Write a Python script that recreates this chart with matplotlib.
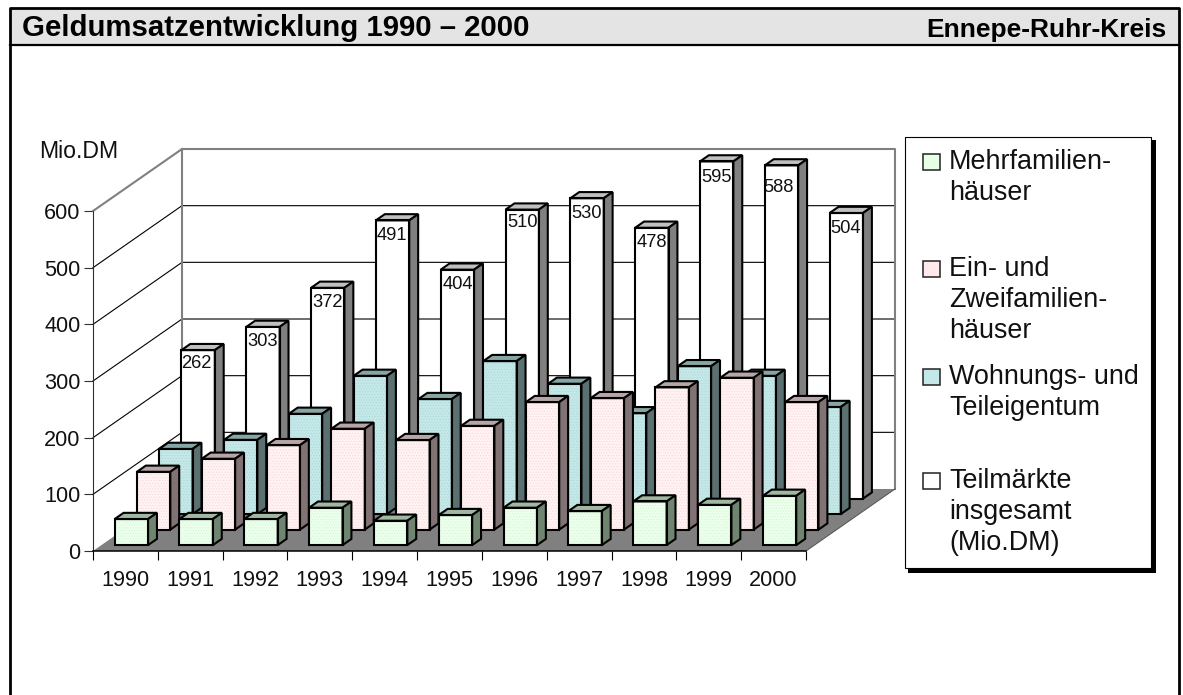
#!/usr/bin/env python
"""Geldumsatzentwicklung 1990-2000 as an oblique 3D column chart (Ennepe-Ruhr-Kreis)."""

import matplotlib

matplotlib.use("Agg")
import matplotlib.pyplot as plt  # noqa: E402
from matplotlib.patches import Polygon, Rectangle  # noqa: E402

plt.rcParams["font.family"] = ["Liberation Sans", "DejaVu Sans"]
plt.rcParams["hatch.linewidth"] = 0.35

YEARS = ["1990", "1991", "1992", "1993", "1994", "1995", "1996", "1997", "1998", "1999", "2000"]
MEHRFAMILIEN = [46, 46, 46, 66, 43, 53, 66, 60, 77, 71, 87]
EIN_ZWEI = [102, 125, 149, 178, 158, 183, 225, 232, 251, 268, 225]
EIGENTUM = [115, 131, 177, 244, 203, 270, 230, 178, 261, 244, 189]
INSGESAMT = [262, 303, 372, 491, 404, 510, 530, 478, 595, 588, 504]
Y_TICKS = [0, 100, 200, 300, 400, 500, 600]

# front, top, side, hatch colour per series, back row first
ROWS = [
    (INSGESAMT, "#ffffff", "#c0c0c0", "#808080", None),
    (EIGENTUM, "#c4e8e8", "#86a6a6", "#5b7070", "#a8d4d6"),
    (EIN_ZWEI, "#fff2f2", "#b8a5a7", "#817274", "#fbd2d8"),
    (MEHRFAMILIEN, "#ecffec", "#a0b8a0", "#6f8570", "#cdf5cd"),
]
LEGEND = [
    ("#e6ffe6", ["Mehrfamilien-", "häuser"], 169),
    ("#ffe9ea", ["Ein- und", "Zweifamilien-", "häuser"], 276),
    ("#c4e8e8", ["Wohnungs- und", "Teileigentum"], 384),
    ("#ffffff", ["Teilmärkte", "insgesamt", "(Mio.DM)"], 488),
]

# value labels sit a little differently from bar to bar: (dx in categories, dy in Mio.DM)
LABEL_NUDGE = {0: (-0.03, 3), 3: (-0.01, 0), 5: (0, 3), 8: (0, -2), 9: (-0.045, -13), 10: (-0.015, -1)}

DEPTH_X = 1.373  # how far the back wall is shifted, in categories
DEPTH_V = 109.4  # and in Mio.DM
BAR_W = 0.515
BAR_GAP = 0.204
BAR_DEPTH = 0.1
ROW_DEPTHS = [0.845, 0.595, 0.345, 0.095]

GRID_GREY = "#808080"
EDGE_LW = 1.5


def project(x, value, depth):
    """Oblique projection of (category, value, depth 0..1) onto the axes."""
    return x + depth * DEPTH_X, value + depth * DEPTH_V


def draw_bar(ax, x, value, depth, front, top, side, hatch_col, z):
    """One column: front, top and side faces with a black outline."""
    d2 = depth + BAR_DEPTH
    x2 = x + BAR_W
    front_pts = [project(x, 0, depth), project(x2, 0, depth), project(x2, value, depth), project(x, value, depth)]
    top_pts = [project(x, value, depth), project(x2, value, depth), project(x2, value, d2), project(x, value, d2)]
    side_pts = [project(x2, 0, depth), project(x2, 0, d2), project(x2, value, d2), project(x2, value, depth)]
    ax.add_patch(Polygon(front_pts, fc=front, ec="none", zorder=z, clip_on=False))
    if hatch_col:
        ax.add_patch(Polygon(front_pts, fc="none", ec=hatch_col, lw=0, hatch="......", zorder=z, clip_on=False))
    ax.add_patch(Polygon(top_pts, fc=top, ec="black", lw=EDGE_LW, zorder=z, clip_on=False))
    ax.add_patch(Polygon(side_pts, fc=side, ec="black", lw=EDGE_LW, zorder=z, clip_on=False))
    ax.add_patch(Polygon(front_pts, fc="none", ec="black", lw=EDGE_LW, zorder=z, clip_on=False))


def draw_walls(ax):
    """Floor, back wall and the gridlines running over both walls."""
    n = len(YEARS)
    top = Y_TICKS[-1]
    floor = [project(0, 0, 0), project(n, 0, 0), project(n, 0, 1), project(0, 0, 1)]
    ax.add_patch(Polygon(floor, fc=GRID_GREY, ec="none", zorder=1, clip_on=False))
    for v in Y_TICKS[1:-1]:
        xs, ys = zip(project(0, v, 0), project(0, v, 1), project(n, v, 1))
        ax.plot(xs, ys, color="black", lw=0.8, zorder=2, clip_on=False)
    xs, ys = zip(project(0, top, 0), project(0, top, 1), project(n, top, 1), project(n, 0, 1))
    ax.plot(xs, ys, color=GRID_GREY, lw=1.5, zorder=2, clip_on=False)
    xs, ys = zip(project(0, 0, 1), project(0, top, 1))
    ax.plot(xs, ys, color=GRID_GREY, lw=1.5, zorder=2, clip_on=False)
    xs, ys = zip(project(n, 0, 0), project(n, 0, 1))
    ax.plot(xs, ys, color="#505050", lw=0.7, zorder=2, clip_on=False)


def draw_page(bg):
    """Page frame, header band and the legend box, all in pixel coordinates."""
    bg.set_xlim(0, 1183)
    bg.set_ylim(695, 0)
    bg.axis("off")
    bg.add_patch(Rectangle((10, 8), 1169, 36.5, fc="#e4e4e4", ec="none"))
    bg.plot([10, 10, 1179, 1179], [700, 8, 8, 700], color="black", lw=2.0, clip_on=True)
    bg.plot([10, 1179], [44.5, 44.5], color="black", lw=1.6)
    bg.text(22, 36.5, "Geldumsatzentwicklung 1990 – 2000", fontsize=21.2, fontweight="bold", va="baseline")
    bg.text(1167, 36.5, "Ennepe-Ruhr-Kreis", fontsize=19, fontweight="bold", ha="right", va="baseline")
    bg.text(39, 157.7, "Mio.DM", fontsize=16.6, va="baseline", color="#111111")

    bg.add_patch(Rectangle((908, 140), 248, 433, fc="black", ec="none"))
    bg.add_patch(Rectangle((905, 137), 246, 431, fc="white", ec="black", lw=0.8))
    for color, lines, baseline in LEGEND:
        bg.add_patch(Rectangle((923.5, baseline - 15), 17, 16, fc=color, ec="#222222", lw=1.1))
        for i, line in enumerate(lines):
            bg.text(949, baseline + i * 31, line, fontsize=19.4, va="baseline", color="#111111")


def main():
    fig = plt.figure(figsize=(11.83, 6.95), dpi=100)
    bg = fig.add_axes([0, 0, 1, 1], zorder=0)
    draw_page(bg)

    ax = fig.add_axes([93 / 1183, (695 - 551) / 695, 713 / 1183, 340 / 695], zorder=1)
    ax.patch.set_visible(False)
    n = len(YEARS)
    ax.set_xlim(0, n)
    ax.set_ylim(0, Y_TICKS[-1])
    for name in ("top", "right"):
        ax.spines[name].set_visible(False)
    ax.spines["left"].set_color("#303030")
    ax.spines["left"].set_linewidth(0.8)
    ax.spines["bottom"].set_linewidth(1.1)
    ax.set_yticks(Y_TICKS)
    ax.tick_params(axis="y", length=6.5, width=0.8, color="#303030", pad=2.5, labelsize=15.6, labelcolor="#111111")
    ax.set_xticks(range(n + 1))
    ax.set_xticklabels([])
    ax.tick_params(axis="x", which="major", length=6.2, width=0.8)
    ax.set_xticks([i + 0.5 for i in range(n)], YEARS, minor=True)
    ax.tick_params(axis="x", which="minor", length=0, pad=13.5, labelsize=15.6, labelcolor="#111111")

    draw_walls(ax)

    for row, (values, front, top, side, hatch_col) in enumerate(ROWS):
        depth = ROW_DEPTHS[row]
        for i, value in enumerate(values):
            draw_bar(ax, i + BAR_GAP, value, depth, front, top, side, hatch_col, 3 + row)

    # value labels only on the back row, inside the top of the column
    for i, value in enumerate(INSGESAMT):
        dx, dy = LABEL_NUDGE.get(i, (0, 0))
        tx, ty = project(i + BAR_GAP + BAR_W / 2 + dx, value + dy - 34, ROW_DEPTHS[0])
        ax.text(tx, ty, str(value), fontsize=13.2, ha="center", va="baseline", color="#111111", zorder=4)

    fig.savefig("out.png", dpi=100)
    plt.close(fig)


if __name__ == "__main__":
    main()
